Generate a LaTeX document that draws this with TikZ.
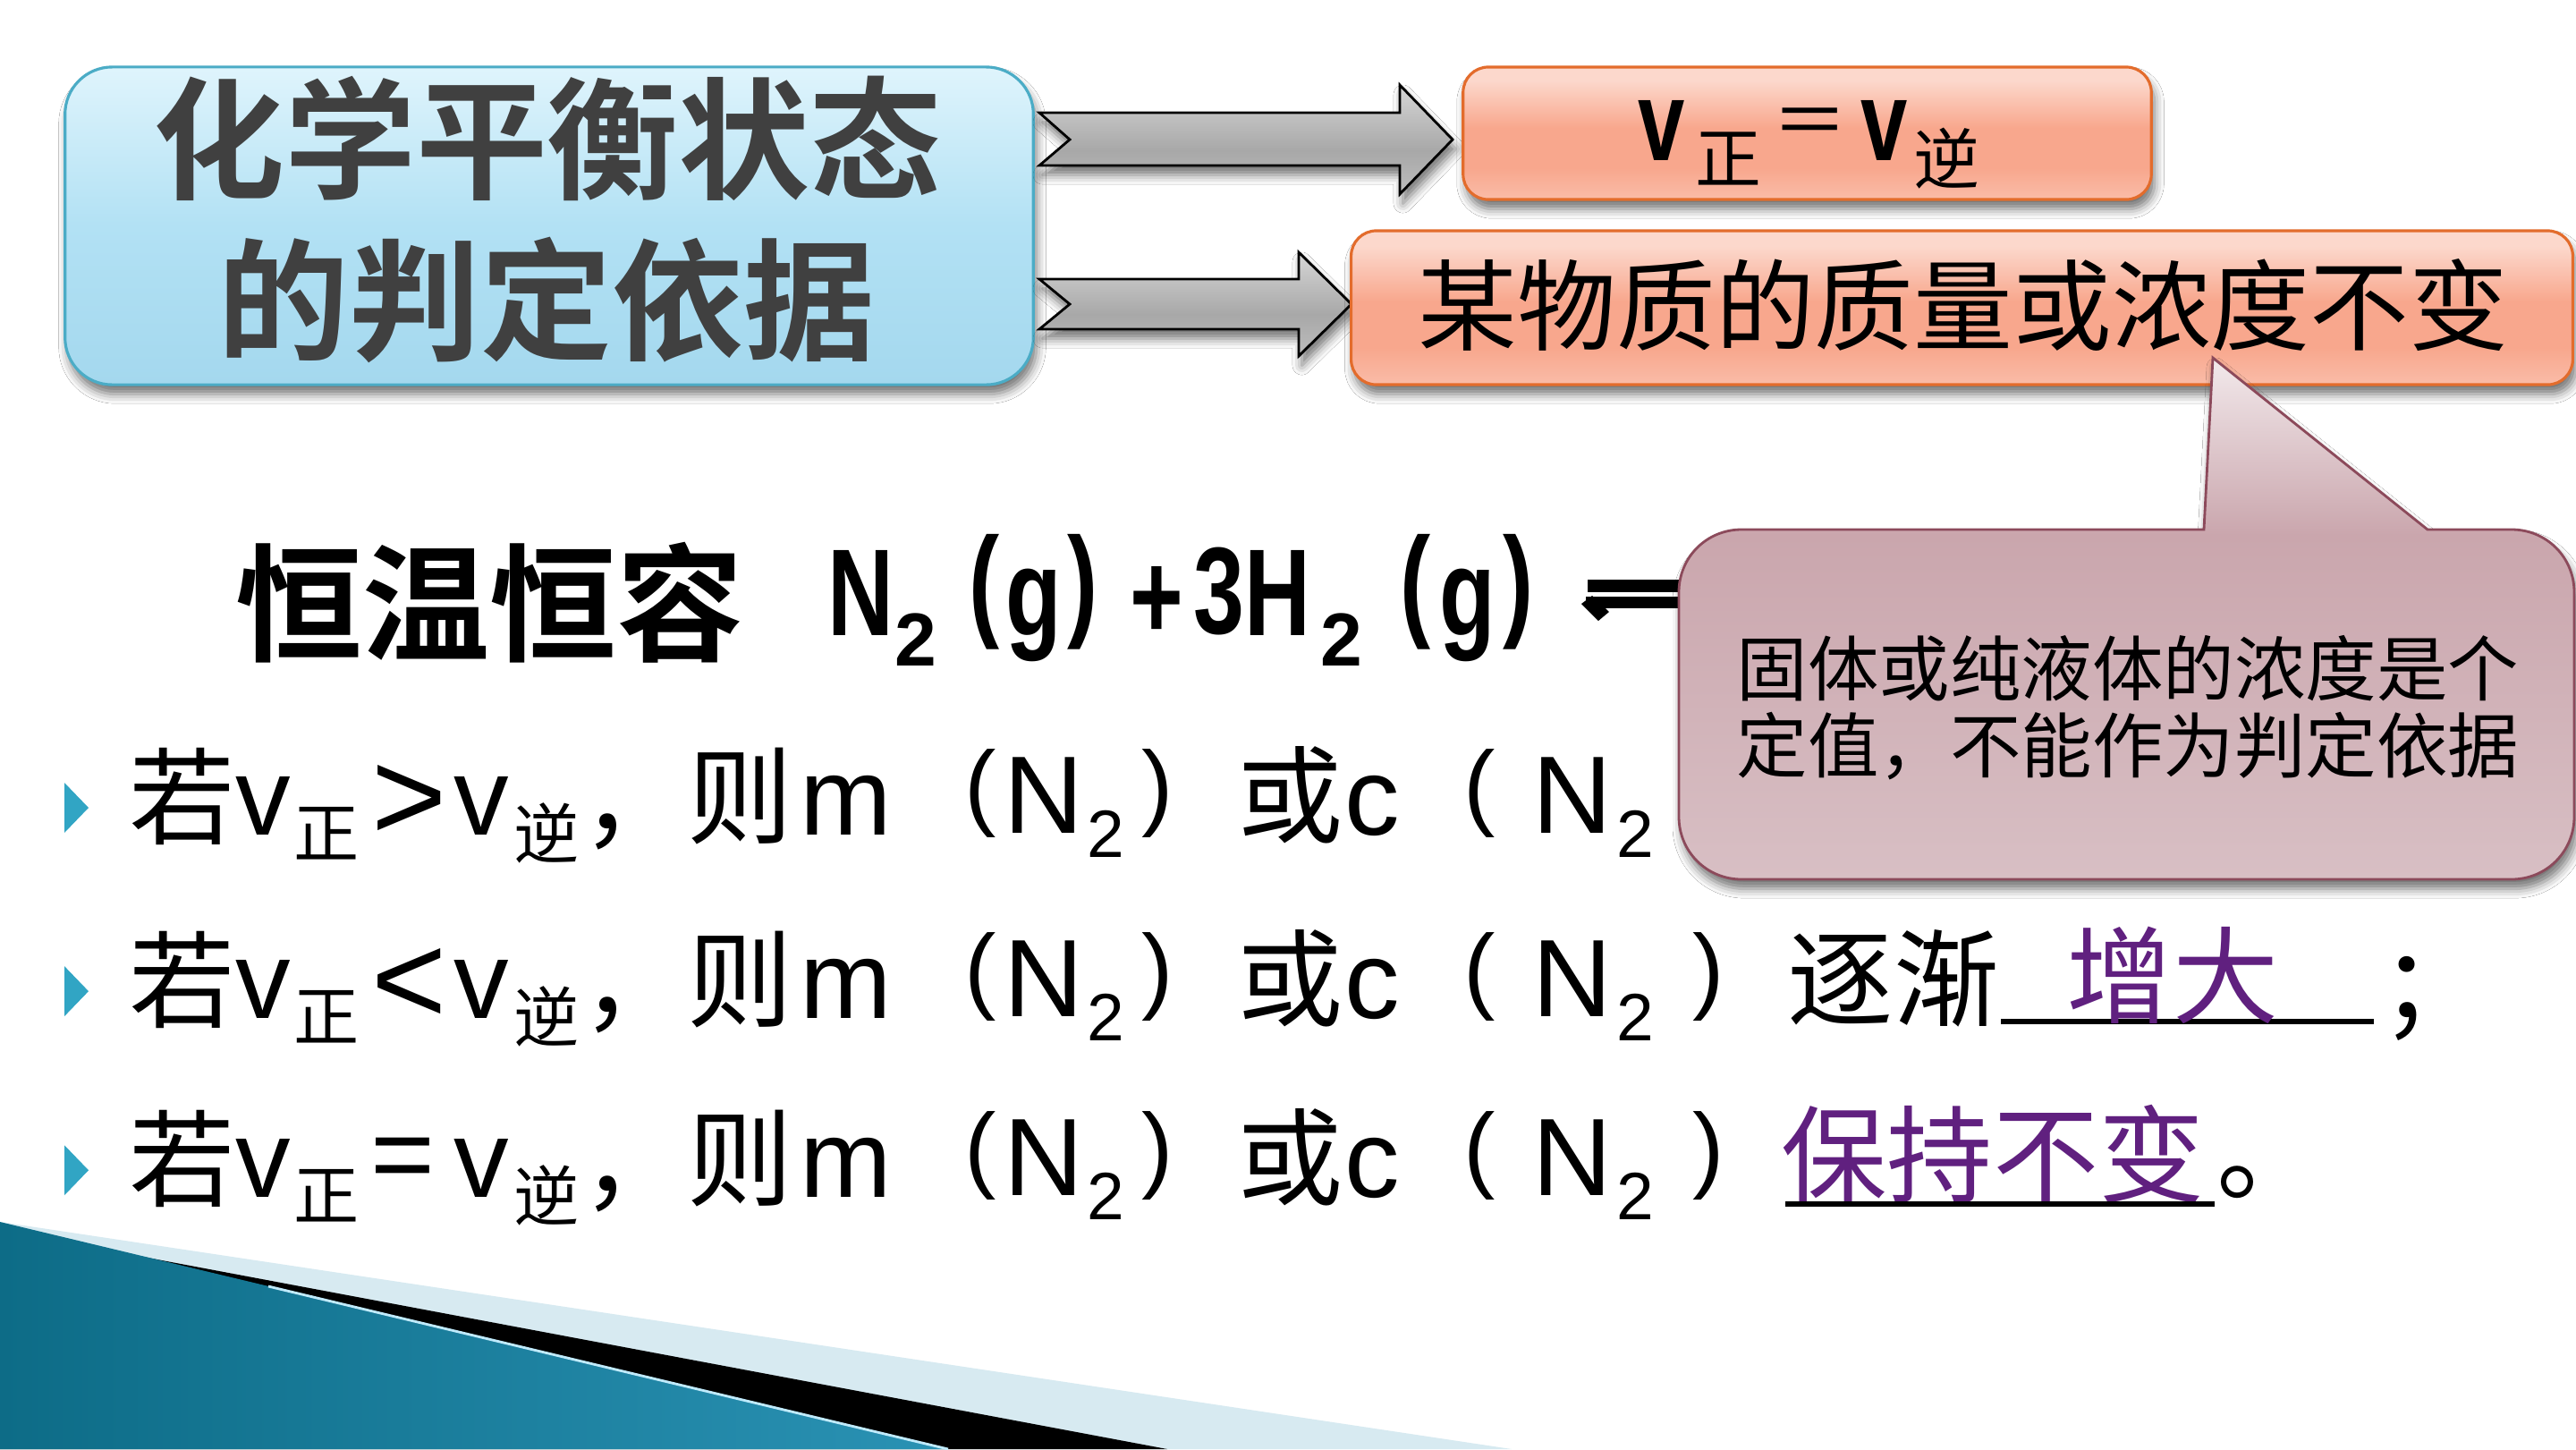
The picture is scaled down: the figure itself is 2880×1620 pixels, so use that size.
\documentclass[tikz,border=0pt]{standalone}
\usepackage{fontspec}
\setmainfont{Liberation Sans}
\newfontfamily\cjk{Noto Sans CJK SC}
\newfontfamily\cjkb{Noto Sans CJK SC Bold}
\newfontfamily\lat{Liberation Sans}
\newfontfamily\latb[FakeStretch=0.74]{Liberation Sans Bold}
\newfontfamily\latbn{Liberation Sans Bold}
\usetikzlibrary{shadows.blur}
\newcommand\fsz[1]{\fontsize{#1pt}{#1pt}\selectfont}

\definecolor{tb1}{HTML}{DFF4FC}
\definecolor{tb2}{HTML}{B2E1F4}
\definecolor{tb3}{HTML}{A4D8EE}
\definecolor{tbd}{HTML}{4BACC6}
\definecolor{sa1}{HTML}{FCD8CC}
\definecolor{sa2}{HTML}{F8A78D}
\definecolor{sa3}{HTML}{FABCA8}
\definecolor{sad}{HTML}{E36C2C}
\definecolor{gr1}{HTML}{D6D6D6}
\definecolor{gr2}{HTML}{A8A8A8}
\definecolor{gr3}{HTML}{BDBDBD}
\definecolor{cl1}{HTML}{F2E9EB}
\definecolor{cl2}{HTML}{CAA6AD}
\definecolor{cl3}{HTML}{D8BFC4}
\definecolor{cld}{HTML}{8C4A5B}
\definecolor{ttl}{HTML}{404040}
\definecolor{purp}{HTML}{60207F}
\definecolor{bul}{HTML}{31A5C4}
\definecolor{tealA}{HTML}{0D6C87}
\definecolor{tealB}{HTML}{56B5D5}
\definecolor{tealC}{HTML}{2A92B4}
\definecolor{lblue}{HTML}{D7EAF1}

\pgfdeclareverticalshading{titlesh}{100bp}{color(0bp)=(tb3); color(25bp)=(tb3); color(50bp)=(tb2); color(75bp)=(tb1); color(100bp)=(tb1)}
\pgfdeclareverticalshading{salsh}{100bp}{color(0bp)=(sa3); color(25bp)=(sa3); color(37bp)=(sa2); color(52bp)=(sa2); color(70bp)=(sa1); color(100bp)=(sa1)}
\pgfdeclareverticalshading{graysh}{100bp}{color(0bp)=(gr3); color(25bp)=(gr3); color(45bp)=(gr2); color(75bp)=(gr1); color(100bp)=(gr1)}
\pgfdeclareverticalshading{callsh}{100bp}{color(0bp)=(cl3); color(25bp)=(cl3); color(58bp)=(cl2); color(75bp)=(cl1); color(100bp)=(cl1)}

\newcommand\bline[3]{%
\begin{scope}[yshift=#2]
 \fill[bul] (72,875) -- (99,903) -- (72,931) -- cycle;
 \node[bt] (#1a) at (203.5,890) {若};
 \node[bl] (#1b) at (294,900.5) {v};
 \node[bs] (#1c) at (365.5,931.5) {正};
 #3
 \node[bl] (#1e) at (538,900.5) {v};
 \node[bs] (#1f) at (611,931) {逆};
 \node[bt] (#1g) at (710,930) {，};
 \node[bt] (#1h) at (828,890) {则};
 \node[bl] (#1i) at (946,900.5) {m};
 \node[bp] (#1j) at (1096.5,887) {(};
 \node[bl] (#1k) at (1167,889) {N};
 \node[bn] (#1l) at (1236.5,932) {2};
 \node[bp] (#1m) at (1294,887) {)};
 \node[bt] (#1n) at (1443,888.5) {或};
 \node[bl] (#1o) at (1534,900.5) {c};
 \node[bp] (#1p) at (1654.5,887) {(};
 \node[bl] (#1q) at (1758,889) {N};
 \node[bn] (#1r) at (1828.5,932) {2};
\end{scope}}

\begin{document}
\begin{tikzpicture}[x=0.01cm,y=-0.01cm,
  pc/.style={inner sep=0pt,outer sep=0pt,anchor=center},
  tt/.style={pc,font=\cjkb\fsz{41.8},text=ttl},
  hc/.style={pc,font=\cjkb\fsz{40.4}},
  hl/.style={pc,font=\latb\fsz{39.3}},
  hs/.style={pc,font=\latbn\fsz{23.9}},
  av/.style={pc,font=\latb\fsz{36.1}},
  as/.style={pc,font=\cjk\fsz{21}},
  aeq/.style={pc,font=\cjk\fsz{24}},
  bt/.style={pc,font=\cjk\fsz{33.6}},
  bl/.style={pc,font=\lat\fsz{35}},
  bs/.style={pc,font=\cjk\fsz{20.8}},
  bn/.style={pc,font=\lat\fsz{21.3}},
  bp/.style={pc,font=\lat\fsz{30.2}},
  bg/.style={pc,font=\lat\fsz{41}},
  shad/.style={blur shadow={shadow xshift=1pt,shadow yshift=-3pt,shadow blur radius=3pt,shadow opacity=55}},
  titlebox/.style={shading=titlesh,draw=tbd,line width=0.9pt,rounded corners=15pt,shad},
  salbox/.style={shading=salsh,draw=sad,line width=0.9pt,rounded corners=8pt,shad},
  blockarrow/.style={shading=graysh,draw=black,line width=0.8pt,shad},
  uline/.style={line width=1.7pt,black}
]
\useasboundingbox (0,0) rectangle (2880,1620);
\fill[white] (0,0) rectangle (2880,1620);

% bottom-left decoration
\fill[lblue] (0,1366) -- (1690,1620) -- (0,1620) -- cycle;
\fill[black] (0,1375) -- (1305,1620) -- (0,1620) -- cycle;
\shade[left color=tealA,middle color=tealB,right color=tealC] (0,1366) -- (1060,1620) -- (0,1620) -- cycle;
\draw[cyan!25,line width=0.8pt] (300,1438) -- (1060,1620);

% title box
\node[titlebox,minimum width=10.82cm,minimum height=3.55cm] (title) at (614,252.5) {};
\node[tt] (t1) at (612,155) {化学平衡状态};
\node[tt] (t2) at (611,335) {的判定依据};

% block arrows
\shadedraw[blockarrow] (1162,126) -- (1565,126) -- (1565,95) -- (1624,156) -- (1565,217) -- (1565,185) -- (1162,185) -- (1196,156) -- cycle;
\shadedraw[blockarrow] (1162,312) -- (1452,312) -- (1452,282) -- (1511,340) -- (1452,398) -- (1452,368) -- (1162,368) -- (1196,340) -- cycle;

% box A
\node[salbox,minimum width=7.69cm,minimum height=1.48cm] (bA) at (2020.5,149) {};
\node[av] (a1) at (1858,146) {v};
\node[as] (a2) at (1932,177.5) {正};
\node[aeq] (a3) at (2024,143.5) {＝};
\node[av] (a4) at (2106.5,146) {v};
\node[as] (a5) at (2176.5,177) {逆};

% box B
\node[salbox,minimum width=13.65cm,minimum height=1.72cm] (bB) at (2193.5,344) {};
\node[pc,font=\cjk\fsz{31.5}] (b1) at (2195,341) {某物质的质量或浓度不变};

% heading
\node[hc] (h0) at (547.5,673.5) {恒温恒容};
\node[hl] (h1) at (962,662.5) {N};
\node[hs] (h2) at (1024,715) {2};
\node[hl] (h3) at (1101,661.5) {(};
\node[hl] (h4) at (1155.5,688) {g};
\node[hl] (h5) at (1210.5,661.5) {)};
\node[hl] (h6) at (1293.5,674) {+};
\node[hl] (h7) at (1362.5,661.5) {3};
\node[hl] (h8) at (1428.5,662.5) {H};
\node[hs] (h9) at (1500,715) {2};
\node[hl] (h10) at (1583,661.5) {(};
\node[hl] (h11) at (1640.5,688) {g};
\node[hl] (h12) at (1698,661.5) {)};
\fill (1775,648) rectangle (1885,662);
\fill (1773,667) rectangle (1885,680);
\fill (1768,675) -- (1780,666) -- (1799,684) -- (1787,694) -- cycle;

% bullet lines
\bline{p}{0cm}{\node[bg] (pd) at (457.5,897.5) {>};}
\bline{q}{-2.05cm}{\node[bg] (qd) at (457.5,897.5) {<};}
\bline{s}{-4.05cm}{\node[bl] (sd) at (450,897) {=};}
\node[bp] (qx) at (1910.5,1092) {)};
\node[bt] (qy) at (2117,1093.5) {逐渐};
\draw[uline] (2237,1142) -- (2654,1142);
\node[bt,text=purp] (qz) at (2429,1090) {增大};
\node[bt] (qw) at (2721,1116) {；};
\node[bp] (sx) at (1910.5,1292) {)};
\node[bt,text=purp] (sy) at (2228,1290) {保持不变};
\draw[uline] (1996,1346) -- (2476,1346);
\node[bt] (sz) at (2538,1322) {。};

% callout
\shadedraw[shading=callsh,draw=cld,line width=0.8pt,shad]
  (1877,662) .. controls (1877,623) and (1908,592) .. (1947,592)
  -- (2464,592) -- (2474,400) -- (2714,592)
  -- (2808,592) .. controls (2847,592) and (2878,623) .. (2878,662)
  -- (2878,913) .. controls (2878,952) and (2847,983) .. (2808,983)
  -- (1947,983) .. controls (1908,983) and (1877,952) .. (1877,913) -- cycle;
\node[pc,font=\cjk\fsz{22.6}] (c1) at (2379,747.5) {固体或纯液体的浓度是个};
\node[pc,font=\cjk\fsz{22.6}] (c2) at (2379,834.5) {定值，不能作为判定依据};
\end{tikzpicture}
\end{document}
